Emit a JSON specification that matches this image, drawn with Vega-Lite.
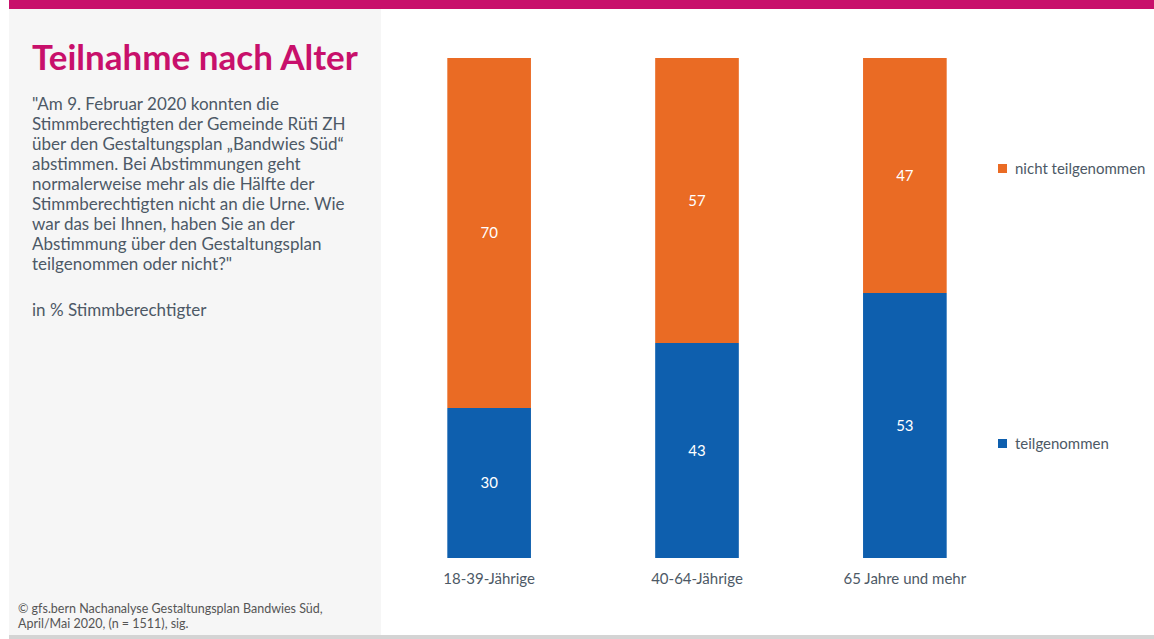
{
  "$schema": "https://vega.github.io/schema/vega-lite/v6.json",
  "padding": {"left": 9, "top": 0, "right": 0, "bottom": 0},
  "background": "white",
  "spacing": 0,
  "config": {
    "view": {"stroke": null},
    "concat": {"spacing": 0},
    "font": "Lato"
  },
  "vconcat": [
    {
      "width": 1145, "height": 9,
      "view": {"fill": "#C8106B", "stroke": null},
      "data": {"values": []},
      "mark": "text",
      "encoding": {}
    },
    {
      "spacing": 0,
      "hconcat": [
        {
          "spacing": 0,
          "bounds": "flush",
          "vconcat": [
            {
              "width": 372, "height": 300,
              "view": {"fill": "#F6F6F6", "stroke": null},
              "title": {
                "text": "Teilnahme nach Alter",
                "subtitle": [
                  "\"Am 9. Februar 2020 konnten die",
                  "Stimmberechtigten der Gemeinde Rüti ZH",
                  "über den Gestaltungsplan „Bandwies Süd“",
                  "abstimmen. Bei Abstimmungen geht",
                  "normalerweise mehr als die Hälfte der",
                  "Stimmberechtigten nicht an die Urne. Wie",
                  "war das bei Ihnen, haben Sie an der",
                  "Abstimmung über den Gestaltungsplan",
                  "teilgenommen oder nicht?\""
                ],
                "orient": "top",
                "anchor": "start",
                "frame": "group",
                "offset": -264,
                "dx": 23,
                "font": "Lato",
                "fontSize": 35,
                "fontWeight": "bold",
                "color": "#C8106B",
                "subtitleFont": "Lato",
                "subtitleFontSize": 17,
                "subtitleLineHeight": 20,
                "subtitleColor": "#4D5966",
                "subtitlePadding": 20
              },
              "data": {"values": []},
              "mark": "text",
              "encoding": {}
            },
            {
              "width": 372, "height": 280,
              "view": {"fill": "#F6F6F6", "stroke": null},
              "title": {
                "text": "in % Stimmberechtigter",
                "orient": "top",
                "anchor": "start",
                "frame": "group",
                "offset": -11,
                "dx": 23,
                "font": "Lato",
                "fontSize": 17,
                "fontWeight": "normal",
                "color": "#4D5966"
              },
              "data": {"values": []},
              "mark": "text",
              "encoding": {}
            },
            {
              "width": 372, "height": 46,
              "view": {"fill": "#F6F6F6", "stroke": null},
              "title": {
                "text": [
                  "© gfs.bern Nachanalyse Gestaltungsplan Bandwies Süd,",
                  "April/Mai 2020, (n = 1511), sig."
                ],
                "orient": "top",
                "anchor": "start",
                "frame": "group",
                "offset": -41,
                "dx": 9,
                "font": "Lato",
                "fontSize": 12.5,
                "fontWeight": "normal",
                "lineHeight": 15,
                "color": "#555555"
              },
              "data": {"values": []},
              "mark": "text",
              "encoding": {}
            }
          ]
        },
        {
          "width": 632, "height": 549,
          "data": {
            "values": [
              {"gruppe": "18-39-Jährige", "status": "teilgenommen", "anteil": 30},
              {"gruppe": "18-39-Jährige", "status": "nicht teilgenommen", "anteil": 70},
              {"gruppe": "40-64-Jährige", "status": "teilgenommen", "anteil": 43},
              {"gruppe": "40-64-Jährige", "status": "nicht teilgenommen", "anteil": 57},
              {"gruppe": "65 Jahre und mehr", "status": "teilgenommen", "anteil": 53},
              {"gruppe": "65 Jahre und mehr", "status": "nicht teilgenommen", "anteil": 47}
            ]
          },
          "encoding": {
            "x": {
              "field": "gruppe", "type": "nominal", "sort": null,
              "scale": {"paddingInner": 0.5976, "paddingOuter": 0.319},
              "axis": {
                "title": null, "labelAngle": 0, "ticks": false, "domain": false,
                "labelFontSize": 15, "labelColor": "#4D5966", "labelPadding": 13,
                "labelFont": "Lato"
              }
            },
            "y": {
              "field": "anteil", "type": "quantitative", "stack": "zero",
              "scale": {"domain": [0, 109.8], "nice": false},
              "axis": null
            },
            "order": {"field": "status", "sort": "descending"}
          },
          "layer": [
            {
              "mark": {"type": "bar"},
              "encoding": {
                "color": {
                  "field": "status", "type": "nominal",
                  "scale": {
                    "domain": ["nicht teilgenommen", "teilgenommen"],
                    "range": ["#EA6B24", "#0E5FAE"]
                  },
                  "legend": {
                    "title": null,
                    "orient": "none",
                    "legendX": 986,
                    "legendY": 161,
                    "symbolType": "square",
                    "symbolSize": 81,
                    "symbolStrokeWidth": 0,
                    "labelFontSize": 15,
                    "labelFont": "Lato",
                    "labelColor": "#4D5966",
                    "labelOffset": 5,
                    "rowPadding": 259
                  }
                }
              }
            },
            {
              "mark": {"type": "text", "color": "white", "fontSize": 15, "font": "Lato"},
              "encoding": {
                "y": {
                  "field": "anteil", "type": "quantitative", "stack": "zero",
                  "bandPosition": 0.5
                },
                "text": {"field": "anteil", "type": "quantitative"}
              }
            }
          ]
        }
      ]
    },
    {
      "width": 1145, "height": 4,
      "view": {"fill": "#D4D4D4", "stroke": null},
      "data": {"values": []},
      "mark": "text",
      "encoding": {}
    }
  ]
}
